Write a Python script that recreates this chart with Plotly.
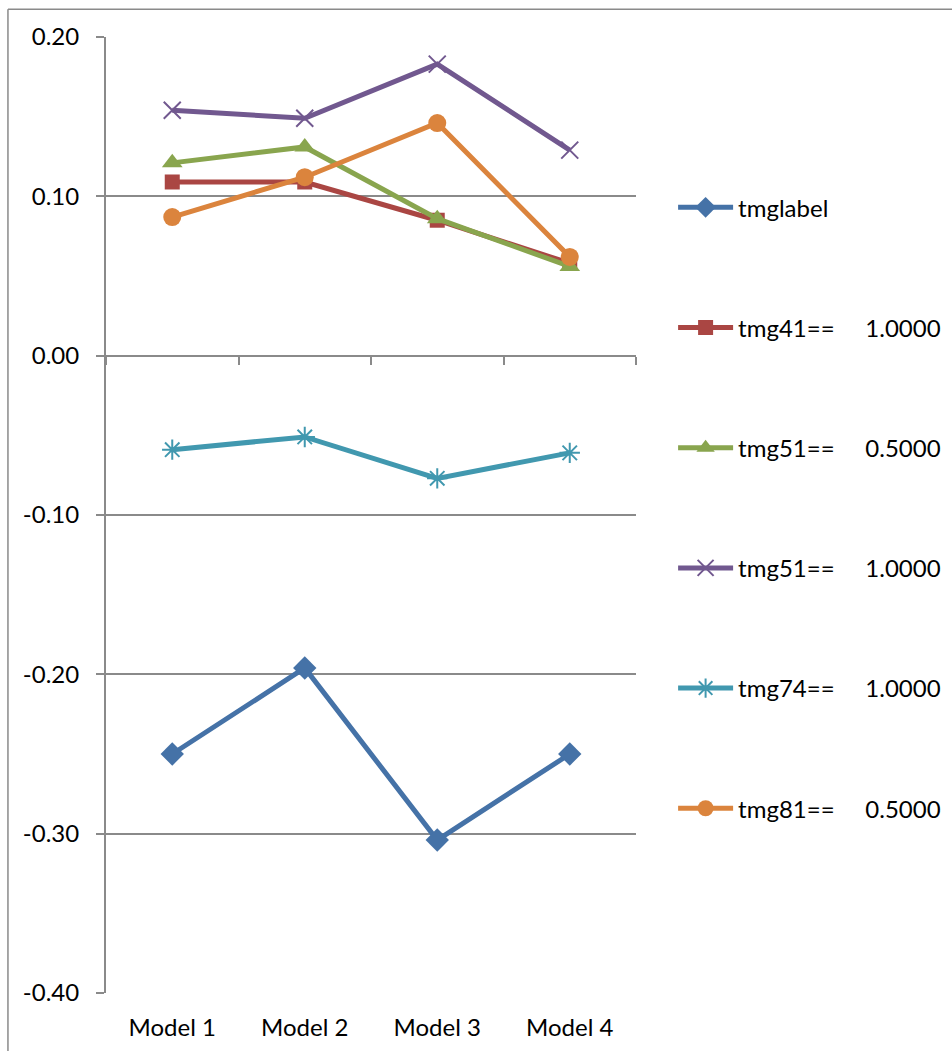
import plotly.graph_objects as go

# Categories and series values
models = ["Model 1", "Model 2", "Model 3", "Model 4"]

tmglabel = [-0.250, -0.196, -0.304, -0.250]
tmg41_10 = [0.109, 0.109, 0.085, 0.058]
tmg51_05 = [0.121, 0.131, 0.086, 0.056]
tmg51_10 = [0.154, 0.149, 0.183, 0.129]
tmg74_10 = [-0.059, -0.051, -0.077, -0.061]
tmg81_05 = [0.087, 0.112, 0.146, 0.062]

y_ticks = [0.20, 0.10, 0.00, -0.10, -0.20, -0.30, -0.40]
y_tick_text = ["0.20", "0.10", "0.00", "-0.10", "-0.20", "-0.30", "-0.40"]

FONT = "Lato"
FS = 24
GRID = "#8a8a8a"
SP = "\u00a0"

series = [
    ("tmglabel", tmglabel, "#4572A7", "diamond", 18, 0),
    ("tmg41==" + SP * 5 + "1.0000", tmg41_10, "#AA4643", "square", 15, 0),
    ("tmg51==" + SP * 5 + "0.5000", tmg51_05, "#89A54E", "triangle-up", 18, 0),
    ("tmg51==" + SP * 5 + "1.0000", tmg51_10, "#71588F", "x-thin-open", 17, 2),
    ("tmg74==" + SP * 5 + "1.0000", tmg74_10, "#4198AF", "asterisk-open", 17, 2),
    ("tmg81==" + SP * 5 + "0.5000", tmg81_05, "#DB843D", "circle", 18, 0),
]

fig = go.Figure()
for i, (name, vals, color, symbol, size, mlw) in enumerate(series):
    fig.add_trace(go.Scatter(
        x=models, y=vals, name=name, mode="lines+markers",
        legendgroup=f"g{i}",
        line=dict(color=color, width=5),
        marker=dict(symbol=symbol, size=size, color=color,
                    line=dict(color=color, width=mlw)),
    ))

# Horizontal axis line at zero with category-boundary tick marks
fig.add_trace(go.Scatter(x=[0.5], y=[0], xaxis="x2", yaxis="y",
                         mode="markers", marker=dict(opacity=0),
                         showlegend=False, hoverinfo="skip"))

# Outer chart border
fig.add_shape(type="line", xref="paper", yref="paper",
              x0=-0.185, x1=-0.185, y0=1.029, y1=-0.2,
              line=dict(color=GRID, width=1.5))
fig.add_shape(type="line", xref="paper", yref="paper",
              x0=-0.185, x1=1.7, y0=1.029, y1=1.029,
              line=dict(color=GRID, width=1.5))

fig.update_layout(
    width=952, height=1051,
    margin=dict(l=106, r=316, t=37, b=58, autoexpand=False),
    paper_bgcolor="white", plot_bgcolor="white",
    font=dict(family=FONT, size=FS, color="black"),
    showlegend=True,
    legend=dict(x=1.07, xanchor="left", y=0.845, yanchor="top",
                tracegroupgap=86, itemwidth=55,
                font=dict(size=FS, family=FONT),
                bgcolor="rgba(0,0,0,0)"),
    xaxis=dict(range=[-0.5, 3.5], type="category", showgrid=False,
               showline=False, ticks="", zeroline=False,
               tickfont=dict(size=FS, family=FONT), ticklabelstandoff=18),
    xaxis2=dict(range=[-0.5, 3.5], overlaying="x", anchor="free",
                position=637 / 956, showline=True, linecolor=GRID,
                linewidth=2, ticks="outside", ticklen=8, tickwidth=2,
                tickcolor=GRID, tickvals=[-0.5, 0.5, 1.5, 2.5, 3.5],
                showticklabels=False, showgrid=False, zeroline=False),
    yaxis=dict(range=[-0.40, 0.20], tickvals=y_ticks, ticktext=y_tick_text,
               showgrid=True, gridcolor=GRID, gridwidth=2,
               showline=True, linecolor=GRID, linewidth=2,
               ticks="outside", ticklen=8, tickwidth=2, tickcolor=GRID,
               zeroline=False, ticklabelstandoff=12,
               tickfont=dict(size=FS, family=FONT)),
)

fig.write_html("out.html")
